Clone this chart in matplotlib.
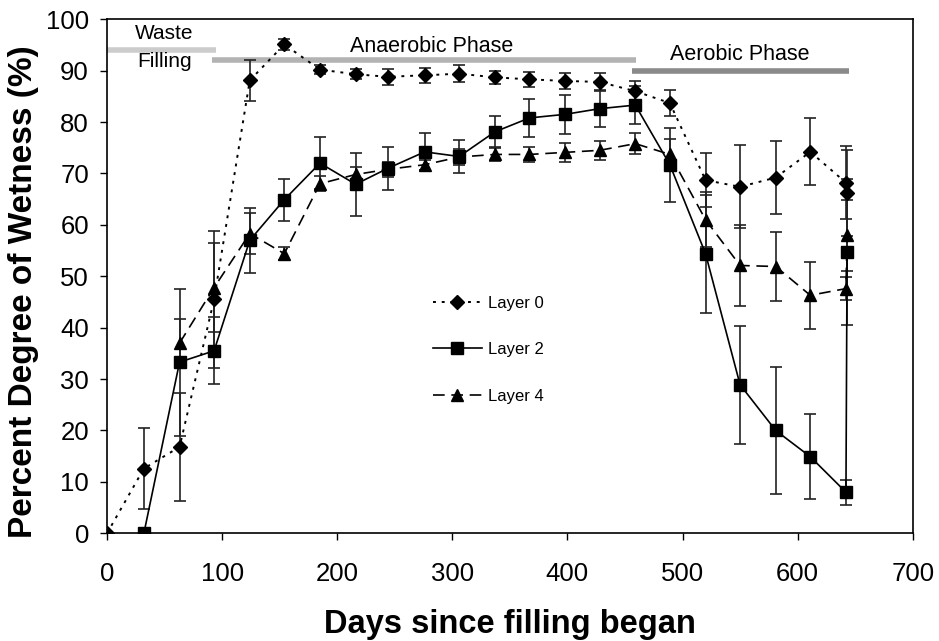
import numpy as np
import matplotlib
matplotlib.use('Agg')
import matplotlib.pyplot as plt
from matplotlib.lines import Line2D

plt.rcParams['font.family'] = ['Liberation Sans', 'DejaVu Sans']

# Layer 0
days_l0 = [0, 32, 63, 93, 124, 154, 185, 216, 244, 276, 306, 337, 367, 398, 428, 459, 489, 520, 550, 581, 611, 642, 643]
wet_l0 = [0, 12.6, 16.8, 45.5, 88.1, 95.1, 90.2, 89.3, 88.8, 89.1, 89.4, 88.7, 88.3, 88.0, 87.8, 86.0, 83.7, 68.7, 67.4, 69.2, 74.2, 68.2, 66.2]
err_l0 = [0, 7.9, 10.5, 13.4, 4.0, 1.0, 0.9, 1.0, 1.6, 1.5, 1.6, 1.3, 1.5, 1.5, 1.7, 2.0, 2.5, 5.3, 8.1, 7.1, 6.5, 7.1, 8.3]

# Layer 2
days_l2 = [32, 63, 93, 124, 154, 185, 216, 244, 276, 306, 337, 367, 398, 428, 459, 489, 520, 550, 581, 611, 642, 643]
wet_l2 = [0, 33.3, 35.5, 57.0, 64.9, 72.0, 67.9, 71.0, 74.2, 73.3, 78.1, 80.8, 81.5, 82.6, 83.3, 71.7, 54.4, 28.9, 20.0, 14.9, 8.0, 54.7]
err_l2 = [0, 14.3, 6.5, 6.3, 4.1, 5.1, 6.1, 4.2, 3.6, 3.2, 3.0, 3.7, 3.8, 3.6, 3.7, 7.2, 11.5, 11.5, 12.3, 8.3, 2.4, 14.2]

# Layer 4
days_l4 = [63, 93, 124, 154, 185, 216, 244, 276, 306, 337, 367, 398, 428, 459, 489, 520, 550, 581, 611, 642, 643]
wet_l4 = [37.0, 47.8, 58.3, 54.4, 68.0, 69.8, 70.8, 71.7, 73.2, 73.7, 73.7, 74.1, 74.5, 75.8, 73.7, 61.0, 52.1, 51.9, 46.3, 47.6, 58.0]
err_l4 = [4.6, 8.6, 4.0, 1.2, 1.5, 1.5, 1.5, 1.0, 1.5, 1.3, 1.4, 1.8, 1.8, 2.1, 3.0, 5.4, 7.9, 6.8, 6.5, 2.3, 6.9]

# phases (start day, end day, level)
phase_start = [0, 91, 456]
phase_end = [95, 460, 645]
phase_level = [94, 92, 90]

fig = plt.figure(figsize=(9.39, 6.41), dpi=100)
ax = fig.add_axes([0.114, 0.168, 0.858, 0.802])

phase_cols = ['#cccccc', '#b3b3b3', '#8a8a8a']
for s, e, lv, c in zip(phase_start, phase_end, phase_level, phase_cols):
    ax.plot([s, e], [lv, lv], color=c, lw=4, solid_capstyle='butt', zorder=1)

ax.text(50, 97.3, 'Waste', ha='center', va='center', fontsize=15)
ax.text(50, 91.7, 'Filling', ha='center', va='center', fontsize=15)
ax.text(282, 94.6, 'Anaerobic Phase', ha='center', va='center', fontsize=15.5)
ax.text(550, 93.2, 'Aerobic Phase', ha='center', va='center', fontsize=15.5)

ekw = dict(color='black', ecolor='#222222', elinewidth=1.2, capsize=4, capthick=1.2, zorder=3)
ls0 = (0, (1.5, 3))
ls4 = (0, (7, 4))
ax.errorbar(days_l0, wet_l0, yerr=err_l0, marker='D', ms=7, lw=1.4, linestyle=ls0, **ekw)
ax.errorbar(days_l2, wet_l2, yerr=err_l2, marker='s', ms=8, lw=1.2, linestyle='-', **ekw)
ax.errorbar(days_l4, wet_l4, yerr=err_l4, marker='^', ms=8, lw=1.2, linestyle=ls4, **ekw)

ax.set_xlim(0, 700)
ax.set_ylim(0, 100)
ax.set_xticks(np.arange(0, 701, 100))
ax.set_yticks(np.arange(0, 101, 10))
ax.tick_params(axis='both', labelsize=18.5, direction='out', length=5, width=1)
ax.tick_params(axis='x', pad=16)
ax.tick_params(axis='y', pad=8)
for sp in ax.spines.values():
    sp.set_linewidth(1.2)

ax.set_xlabel('Days since filling began', fontsize=23.5, fontweight='bold', labelpad=16)
ax.set_ylabel('Percent Degree of Wetness (%)', fontsize=24, fontweight='bold')
ax.yaxis.set_label_coords(-0.084, 0.47)

handles = [
    Line2D([], [], color='black', marker='D', ms=7, lw=1.4, linestyle=ls0),
    Line2D([], [], color='black', marker='s', ms=8, lw=1.2, linestyle='-'),
    Line2D([], [], color='black', marker='^', ms=8, lw=1.2, linestyle=ls4),
]
ax.legend(handles, ['Layer 0', 'Layer 2', 'Layer 4'], loc='center left',
          bbox_to_anchor=(0.394, 0.357), frameon=False, borderpad=0,
          fontsize=12, handlelength=2.95, labelspacing=1.9, handletextpad=0.35)

fig.savefig('out.png', dpi=100)
